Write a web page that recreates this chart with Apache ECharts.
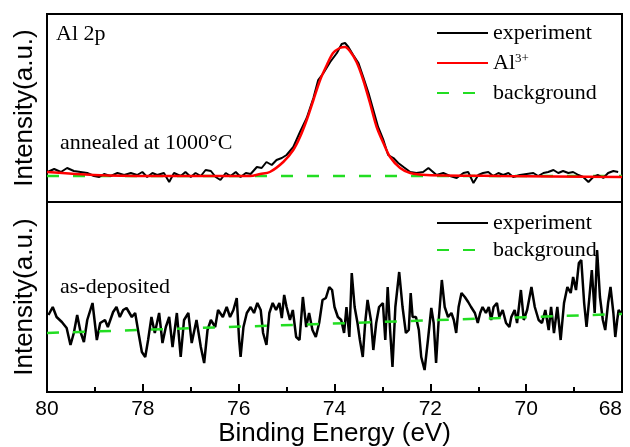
<!DOCTYPE html>
<html>
<head>
<meta charset="utf-8">
<script src="https://cdn.jsdelivr.net/npm/echarts@6/dist/echarts.min.js"></script>
<style>
  html, body { margin: 0; padding: 0; background: #fff; }
  #myChart { width: 630px; height: 447px; }
</style>
</head>
<body>
<div id="myChart"></div>
<script>
// x tick labels (binding energy, eV, reversed axis)
const energyTicks = [80, 78, 76, 74, 72, 70, 68];

// annealed at 1000°C : experiment
const topExpE = [79.99, 79.85, 79.71, 79.58, 79.44, 79.30, 79.16, 79.02, 78.91, 78.81, 78.67, 78.53, 78.39, 78.25, 78.12, 78.01,
  77.91, 77.80, 77.70, 77.56, 77.45, 77.35, 77.21, 77.11, 77.00, 76.90, 76.79, 76.69, 76.58, 76.48, 76.38, 76.27, 76.17, 76.06,
  75.96, 75.85, 75.75, 75.62, 75.52, 75.42, 75.31, 75.21, 75.10, 75.00, 74.86, 74.72, 74.58, 74.44, 74.34, 74.23, 74.09, 73.95,
  73.85, 73.78, 73.71, 73.61, 73.50, 73.40, 73.29, 73.19, 73.09, 72.98, 72.88, 72.77, 72.67, 72.56, 72.42, 72.29, 72.15, 72.04,
  71.87, 71.73, 71.59, 71.45, 71.31, 71.21, 71.10, 71.00, 70.90, 70.79, 70.69, 70.58, 70.48, 70.37, 70.27, 70.13, 69.99, 69.85,
  69.75, 69.64, 69.54, 69.43, 69.33, 69.23, 69.12, 69.02, 68.91, 68.81, 68.70, 68.60, 68.50, 68.39, 68.29, 68.18, 68.08];
const topExpI = [30, 33, 30, 34, 31, 30, 29, 26, 25, 28, 26, 29, 27, 29, 27, 30,
  25, 29, 27, 29, 20, 29, 26, 30, 25, 29, 26, 32, 31, 25, 22, 29, 26, 30,
  25, 29, 28, 35, 34, 40, 37, 42, 44, 47, 55, 70, 84, 104, 122, 129, 140, 149,
  158, 159, 155, 147, 139, 125, 109, 92, 75, 62, 47, 44, 39, 35, 30, 29, 30, 34,
  27, 29, 26, 24, 29, 30, 19, 27, 29, 30, 26, 29, 27, 29, 25, 27, 28, 29,
  26, 29, 30, 32, 29, 31, 29, 30, 27, 25, 20, 25, 27, 24, 29, 31, 30];

// Al3+ fitted component
const fitE = [80.00, 79.02, 77.85, 75.89, 75.76, 75.55, 75.35, 75.07, 74.86, 74.72, 74.58, 74.44, 74.30, 74.16, 74.03, 73.89,
  73.78, 73.68, 73.54, 73.40, 73.26, 73.12, 72.98, 72.84, 72.63, 72.42, 72.08, 70.55, 68.00];
const fitI = [30, 27, 26, 26, 26, 28, 30, 40, 52, 65, 82, 102, 122, 137, 149, 154,
  155, 151, 140, 122, 99, 75, 59, 45, 34, 29, 27, 26, 25];

// annealed background
const topBgE = [80, 68];
const topBgI = [26, 26];

// as-deposited : experiment
const botExpE = [79.97, 79.88, 79.80, 79.69, 79.59, 79.51, 79.44, 79.37, 79.30, 79.23, 79.16, 79.05, 78.96, 78.89, 78.79, 78.73,
  78.62, 78.55, 78.48, 78.41, 78.34, 78.23, 78.16, 78.09, 78.02, 77.95, 77.89, 77.82, 77.75, 77.66, 77.59, 77.52, 77.45, 77.38,
  77.29, 77.21, 77.14, 77.05, 76.98, 76.88, 76.79, 76.72, 76.65, 76.58, 76.49, 76.43, 76.33, 76.25, 76.18, 76.11, 76.04, 75.99,
  75.96, 75.90, 75.83, 75.75, 75.68, 75.61, 75.54, 75.49, 75.42, 75.36, 75.29, 75.22, 75.15, 75.10, 75.05, 75.00, 74.93, 74.87,
  74.80, 74.73, 74.66, 74.59, 74.53, 74.46, 74.39, 74.32, 74.25, 74.18, 74.11, 74.05, 74.00, 73.93, 73.86, 73.80, 73.75, 73.69,
  73.64, 73.58, 73.52, 73.47, 73.41, 73.36, 73.31, 73.24, 73.19, 73.13, 73.07, 72.99, 72.94, 72.89, 72.84, 72.79, 72.73, 72.65,
  72.58, 72.51, 72.45, 72.41, 72.37, 72.30, 72.24, 72.19, 72.12, 72.05, 71.98, 71.93, 71.88, 71.83, 71.76, 71.70, 71.63, 71.56,
  71.51, 71.46, 71.41, 71.35, 71.28, 71.21, 71.15, 71.07, 71.01, 70.96, 70.91, 70.84, 70.78, 70.73, 70.68, 70.61, 70.56, 70.49,
  70.42, 70.35, 70.31, 70.24, 70.19, 70.11, 70.05, 69.98, 69.89, 69.82, 69.74, 69.67, 69.60, 69.53, 69.48, 69.42, 69.35, 69.28,
  69.21, 69.14, 69.07, 69.02, 68.96, 68.90, 68.85, 68.79, 68.74, 68.68, 68.63, 68.57, 68.52, 68.46, 68.40, 68.35, 68.29, 68.24,
  68.18, 68.14, 68.10, 68.07, 68.02];
const botExpI = [77, 85, 75, 70, 64, 47, 59, 77, 60, 50, 72, 89, 52, 69, 72, 65,
  80, 85, 75, 82, 84, 75, 79, 59, 40, 35, 52, 75, 59, 79, 49, 65, 75, 45,
  79, 35, 72, 79, 49, 72, 45, 29, 62, 72, 65, 82, 75, 85, 75, 82, 94, 52,
  35, 65, 79, 85, 79, 89, 82, 59, 47, 79, 89, 82, 89, 74, 97, 85, 72, 82,
  55, 52, 95, 65, 79, 62, 55, 69, 92, 94, 105, 102, 85, 75, 72, 59, 85, 55,
  119, 85, 69, 52, 35, 69, 92, 72, 42, 69, 85, 89, 52, 105, 62, 25, 85, 120,
  85, 59, 62, 99, 75, 75, 62, 35, 22, 52, 84, 69, 29, 69, 112, 85, 75, 79,
  72, 59, 85, 99, 95, 90, 85, 79, 69, 79, 85, 79, 85, 72, 85, 89, 75, 82,
  69, 65, 75, 82, 69, 102, 72, 82, 105, 85, 72, 69, 82, 62, 85, 59, 85, 52,
  89, 105, 99, 115, 102, 129, 132, 89, 65, 95, 122, 79, 142, 95, 72, 62, 89, 105,
  79, 55, 72, 82, 78];

// as-deposited background
const botBgE = [80, 68];
const botBgI = [59, 78];

const pairs = (xs, ys) => xs.map((x, i) => [x, ys[i]]);

let myChart = echarts.init(document.getElementById("myChart"));

const serif = "Liberation Serif";
const sans = "Liberation Sans";
const green = "#22dd22";

let option = {
  animation: false,
  backgroundColor: "#fff",
  grid: [
    { left: 47, right: 8, top: 14, height: 188, show: true, borderColor: "#000", borderWidth: 2, outerBoundsMode: "none", containLabel: false },
    { left: 47, right: 8, top: 202, height: 190, show: true, borderColor: "#000", borderWidth: 2, outerBoundsMode: "none", containLabel: false }
  ],
  xAxis: [
    {
      gridIndex: 0, type: "value", min: 68, max: 80, interval: 2, inverse: true,
      axisLine: { show: false }, axisTick: { show: false }, axisLabel: { show: false }, splitLine: { show: false }
    },
    {
      gridIndex: 1, type: "value", min: 68, max: 80, interval: 2, inverse: true,
      name: "Binding Energy (eV)",
      nameLocation: "middle",
      nameGap: 28,
      nameTextStyle: { fontFamily: sans, fontSize: 26, color: "#000" },
      axisLine: { show: false },
      axisTick: { show: true, inside: true, length: 8, lineStyle: { color: "#000", width: 2 } },
      minorTick: { show: true, splitNumber: 2, length: 5, lineStyle: { color: "#000", width: 2 } },
      axisLabel: {
        margin: 7, fontFamily: sans, fontSize: 21, color: "#000",
        alignMinLabel: "right",
        formatter: v => (energyTicks.indexOf(v) >= 0 ? String(v) : "")
      },
      splitLine: { show: false }
    }
  ],
  yAxis: [
    {
      gridIndex: 0, type: "value", min: 0, max: 188,
      name: "Intensity(a.u.)", nameLocation: "middle", nameGap: 9,
      nameTextStyle: { fontFamily: sans, fontSize: 26, color: "#000" },
      axisLine: { show: false }, axisTick: { show: false }, axisLabel: { show: false }, splitLine: { show: false }
    },
    {
      gridIndex: 1, type: "value", min: 0, max: 190,
      name: "Intensity(a.u.)", nameLocation: "middle", nameGap: 9,
      nameTextStyle: { fontFamily: sans, fontSize: 26, color: "#000" },
      axisLine: { show: false }, axisTick: { show: false }, axisLabel: { show: false }, splitLine: { show: false }
    }
  ],
  legend: [
    {
      data: ["experiment", "Al3+", "background"],
      orient: "vertical", left: 436, top: 22, padding: 0,
      itemWidth: 51, itemHeight: 14, itemGap: 8,
      selectedMode: false,
      itemStyle: { opacity: 0 },
      formatter: name => (name === "Al3+" ? "{a|Al}{s|3+}" : name),
      textStyle: {
        fontFamily: serif, fontSize: 22, color: "#000",
        rich: {
          a: { fontFamily: serif, fontSize: 22, color: "#000" },
          s: { fontFamily: serif, fontSize: 13, color: "#000", verticalAlign: "top" }
        }
      }
    },
    {
      data: ["experiment", "background"],
      orient: "vertical", left: 436, top: 212, padding: 0,
      itemWidth: 51, itemHeight: 14, itemGap: 5,
      selectedMode: false,
      itemStyle: { opacity: 0 },
      textStyle: { fontFamily: serif, fontSize: 22, color: "#000" }
    }
  ],
  graphic: [
    { type: "text", x: 56, y: 34, style: { text: "Al 2p", font: '22px "Liberation Serif"', fill: "#000", verticalAlign: "middle" } },
    { type: "text", x: 60, y: 143, style: { text: "annealed at 1000°C", font: '22px "Liberation Serif"', fill: "#000", verticalAlign: "middle" } },
    { type: "text", x: 60, y: 287, style: { text: "as-deposited", font: '22px "Liberation Serif"', fill: "#000", verticalAlign: "middle" } }
  ],
  series: [
    {
      name: "background", type: "line", xAxisIndex: 0, yAxisIndex: 0, symbol: "none",
      lineStyle: { color: green, width: 2.5, type: [12, 14] }, itemStyle: { color: green },
      data: pairs(topBgE, topBgI), z: 2
    },
    {
      name: "experiment", type: "line", xAxisIndex: 0, yAxisIndex: 0, symbol: "none",
      lineStyle: { color: "#000", width: 2 }, itemStyle: { color: "#000" },
      data: pairs(topExpE, topExpI), z: 3
    },
    {
      name: "Al3+", type: "line", xAxisIndex: 0, yAxisIndex: 0, symbol: "none", smooth: 0.3,
      lineStyle: { color: "#ff0000", width: 2.5 }, itemStyle: { color: "#ff0000" },
      data: pairs(fitE, fitI), z: 4
    },
    {
      name: "experiment", type: "line", xAxisIndex: 1, yAxisIndex: 1, symbol: "none",
      lineStyle: { color: "#000", width: 2.5 }, itemStyle: { color: "#000" },
      data: pairs(botExpE, botExpI), z: 3
    },
    {
      name: "background", type: "line", xAxisIndex: 1, yAxisIndex: 1, symbol: "none",
      lineStyle: { color: green, width: 2.5, type: [12, 14] }, itemStyle: { color: green },
      data: pairs(botBgE, botBgI), z: 4
    }
  ]
};

myChart.setOption(option, true);
</script>
</body>
</html>
